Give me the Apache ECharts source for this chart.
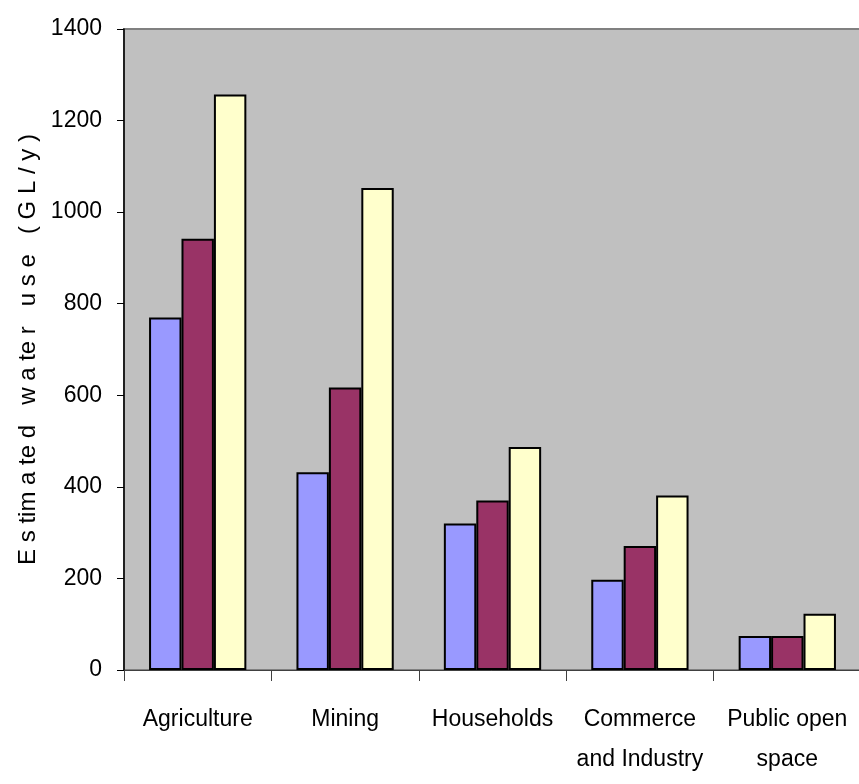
<!DOCTYPE html>
<html>
<head>
<meta charset="utf-8">
<script src="https://cdn.jsdelivr.net/npm/echarts@6/dist/echarts.min.js"></script>
<style>
html,body{margin:0;padding:0;background:#fff;}
#chart{width:859px;height:784px;}
</style>
</head>
<body>
<div id="chart"></div>
<script>
const categories = ['Agriculture', 'Mining', 'Households', 'Commerce\nand Industry', 'Public open\nspace'];
const series1 = [770, 432, 320, 197, 74];
const series2 = [942, 617, 370, 271, 74];
const series3 = [1257, 1053, 487, 381, 123];
const yTicks = { min: 0, max: 1400, interval: 200 };
const yTitle = 'E s tim a te d   w a te r   u s e   ( G L / y )';

const FONT = '"Liberation Sans", Arial, sans-serif';
const chart = echarts.init(document.getElementById('chart'), null, {renderer: 'canvas'});
const barStyle = (c) => ({ color: c, borderColor: '#000', borderWidth: 2 });
chart.setOption({
  animation: false,
  grid: {
    left: 124, top: 29, bottom: 114, right: -2,
    outerBoundsMode: 'none', containLabel: false,
    show: true, backgroundColor: '#C0C0C0', borderColor: '#808080', borderWidth: 2
  },
  xAxis: {
    type: 'category',
    data: categories,
    axisLine: { lineStyle: { color: '#404040', width: 1 } },
    axisTick: { show: true, length: 11, lineStyle: { color: '#404040' } },
    axisLabel: { color: '#000', fontFamily: FONT, fontSize: 23, margin: 30, lineHeight: 40, interval: 0 }
  },
  yAxis: {
    type: 'value',
    min: yTicks.min, max: yTicks.max, interval: yTicks.interval,
    name: yTitle,
    nameLocation: 'middle',
    nameGap: 77,
    nameTextStyle: { color: '#000', fontFamily: FONT, fontSize: 24 },
    splitLine: { show: false },
    axisLine: { show: true, lineStyle: { color: '#000', width: 1.5 } },
    axisTick: { show: true, length: 7, lineStyle: { color: '#000' } },
    axisLabel: { color: '#000', fontFamily: FONT, fontSize: 23, margin: 22, formatter: (v) => String(v) }
  },
  series: [
    { type: 'bar', data: series1, itemStyle: barStyle('#9999FF'), barGap: '0%', barCategoryGap: '34%' },
    { type: 'bar', data: series2, itemStyle: barStyle('#993366'), barGap: '0%', barCategoryGap: '34%' },
    { type: 'bar', data: series3, itemStyle: barStyle('#FFFFCC'), barGap: '0%', barCategoryGap: '34%' }
  ]
});
</script>
</body>
</html>
